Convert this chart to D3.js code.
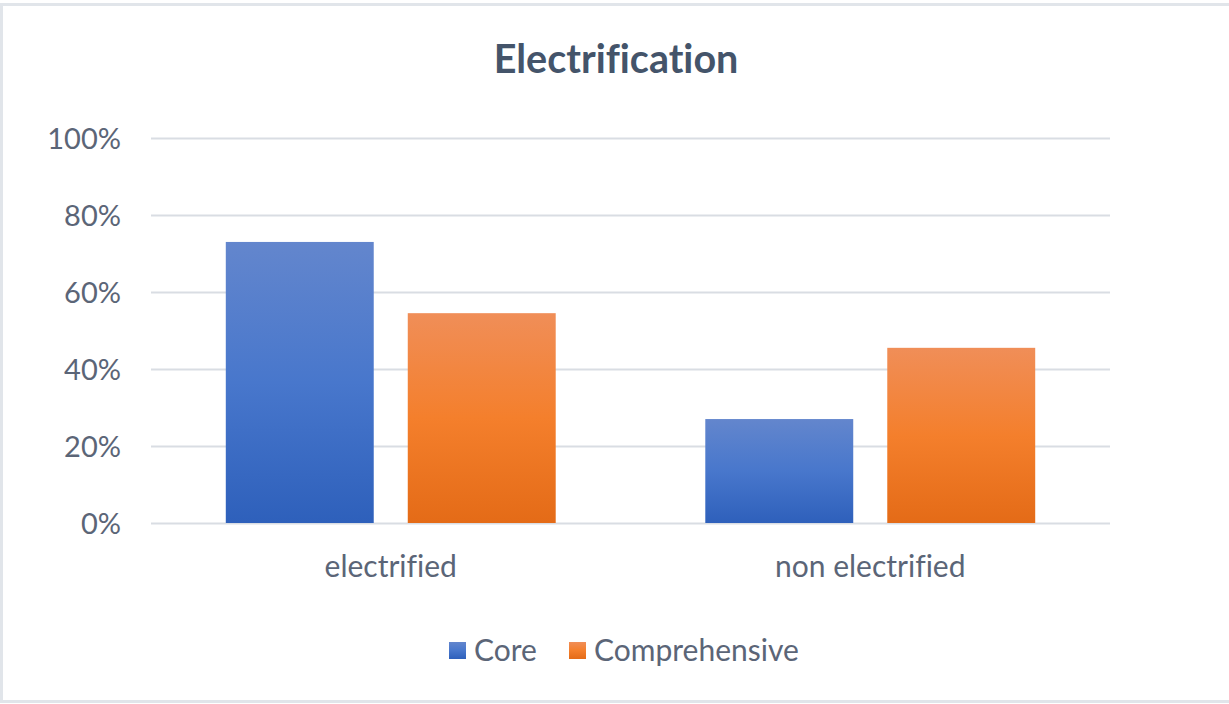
<!DOCTYPE html>
<html>
<head>
<meta charset="utf-8">
<script src="https://cdn.jsdelivr.net/npm/d3@7"></script>
<style>
  html, body { margin: 0; padding: 0; background: #fff; }
  body { width: 1229px; height: 704px; overflow: hidden; }
  svg text { font-family: Lato, "Open Sans", sans-serif; font-variant-ligatures: none; }
</style>
</head>
<body>
<div id="chart-area"></div>
<script>
const categories = ['electrified', 'non electrified'];
const seriesNames = ['Core', 'Comprehensive'];
const coreValues = [0.73, 0.27];
const comprehensiveValues = [0.545, 0.455];
const yTicks = [0, 0.2, 0.4, 0.6, 0.8, 1];

const chartSize = { width: 1229, height: 704 };
const plot = { left: 151, right: 1110, top: 138, bottom: 523 };
const labelColor = '#5b6577';
const tickSize = 29;
const labelSize = 30;
const colors = {
  Core: ['#6386cd', '#4877cc', '#2e60bb'],
  Comprehensive: ['#f08e58', '#f47f2c', '#e46b17']
};

const rows = categories.map((c, i) => ({
  category: c,
  values: [
    { series: 'Core', value: coreValues[i] },
    { series: 'Comprehensive', value: comprehensiveValues[i] }
  ]
}));

const initChart = () => {
  const svg = d3.select('#chart-area').append('svg')
    .attr('width', chartSize.width)
    .attr('height', chartSize.height);

  const defs = svg.append('defs');
  seriesNames.forEach(s => {
    const g = defs.append('linearGradient')
      .attr('id', `grad-${s}`)
      .attr('x1', 0).attr('y1', 0).attr('x2', 0).attr('y2', 1);
    g.append('stop').attr('offset', '0%').attr('stop-color', colors[s][0]);
    g.append('stop').attr('offset', '50%').attr('stop-color', colors[s][1]);
    g.append('stop').attr('offset', '100%').attr('stop-color', colors[s][2]);
  });

  // chart frame
  svg.append('rect')
    .attr('x', 1.5).attr('y', 4.5)
    .attr('width', chartSize.width + 10).attr('height', 697)
    .attr('fill', '#fff')
    .attr('stroke', '#e1e5ea')
    .attr('stroke-width', 3);

  svg.append('text')
    .attr('class', 'title')
    .attr('x', 616)
    .attr('y', 73)
    .attr('text-anchor', 'middle')
    .attr('font-size', 39.5)
    .attr('font-weight', 700)
    .attr('fill', '#44546a')
    .text('Electrification');

  return svg;
};

const drawChart = (svg) => {
  const y = d3.scaleLinear()
    .domain([0, 1])
    .range([plot.bottom, plot.top]);

  const x0 = d3.scaleBand()
    .domain(categories)
    .range([plot.left, plot.right])
    .padding(0);

  const x1 = d3.scaleBand()
    .domain(seriesNames)
    .range([0, x0.bandwidth()])
    .paddingInner(0.187)
    .paddingOuter(0.411);

  // gridlines + percent labels
  const yAxis = d3.axisLeft(y)
    .tickValues(yTicks)
    .tickFormat(d3.format('.0%'))
    .tickSize(-(plot.right - plot.left))
    .tickPadding(30);

  const yG = svg.append('g')
    .attr('class', 'y axis')
    .attr('transform', `translate(${plot.left},0)`)
    .call(yAxis);
  yG.select('.domain').remove();
  yG.selectAll('.tick line')
    .attr('stroke', '#d9dde3')
    .attr('stroke-width', 2);
  yG.selectAll('.tick text')
    .attr('fill', labelColor)
    .attr('font-size', tickSize)
    .attr('dy', '0.35em');

  const groups = svg.append('g')
    .attr('class', 'bars')
    .selectAll('g')
    .data(rows)
    .join('g')
    .attr('transform', d => `translate(${x0(d.category)},0)`);

  groups.selectAll('rect')
    .data(d => d.values)
    .join('rect')
    .attr('x', d => x1(d.series))
    .attr('width', x1.bandwidth())
    .attr('y', d => y(d.value))
    .attr('height', d => y(0) - y(d.value))
    .attr('fill', d => `url(#grad-${d.series})`);

  // category labels
  const xAxis = d3.axisBottom(x0).tickSize(0).tickPadding(54);
  const xG = svg.append('g')
    .attr('class', 'x axis')
    .attr('transform', `translate(0,${plot.bottom})`)
    .call(xAxis);
  xG.select('.domain').remove();
  xG.selectAll('.tick text')
    .attr('fill', labelColor)
    .attr('font-size', labelSize)
    .attr('dy', 0);

  // legend
  const legend = svg.append('g').attr('class', 'legend');
  const legendX = [449, 569];
  seriesNames.forEach((s, i) => {
    legend.append('rect')
      .attr('x', legendX[i]).attr('y', 642)
      .attr('width', 17).attr('height', 17)
      .attr('fill', `url(#grad-${s})`);
    legend.append('text')
      .attr('x', legendX[i] + 25).attr('y', 661)
      .attr('fill', labelColor)
      .attr('font-size', labelSize)
      .text(s);
  });
};

const main = () => {
  const svg = initChart();
  drawChart(svg);
};

window.onload = main;
</script>
</body>
</html>
